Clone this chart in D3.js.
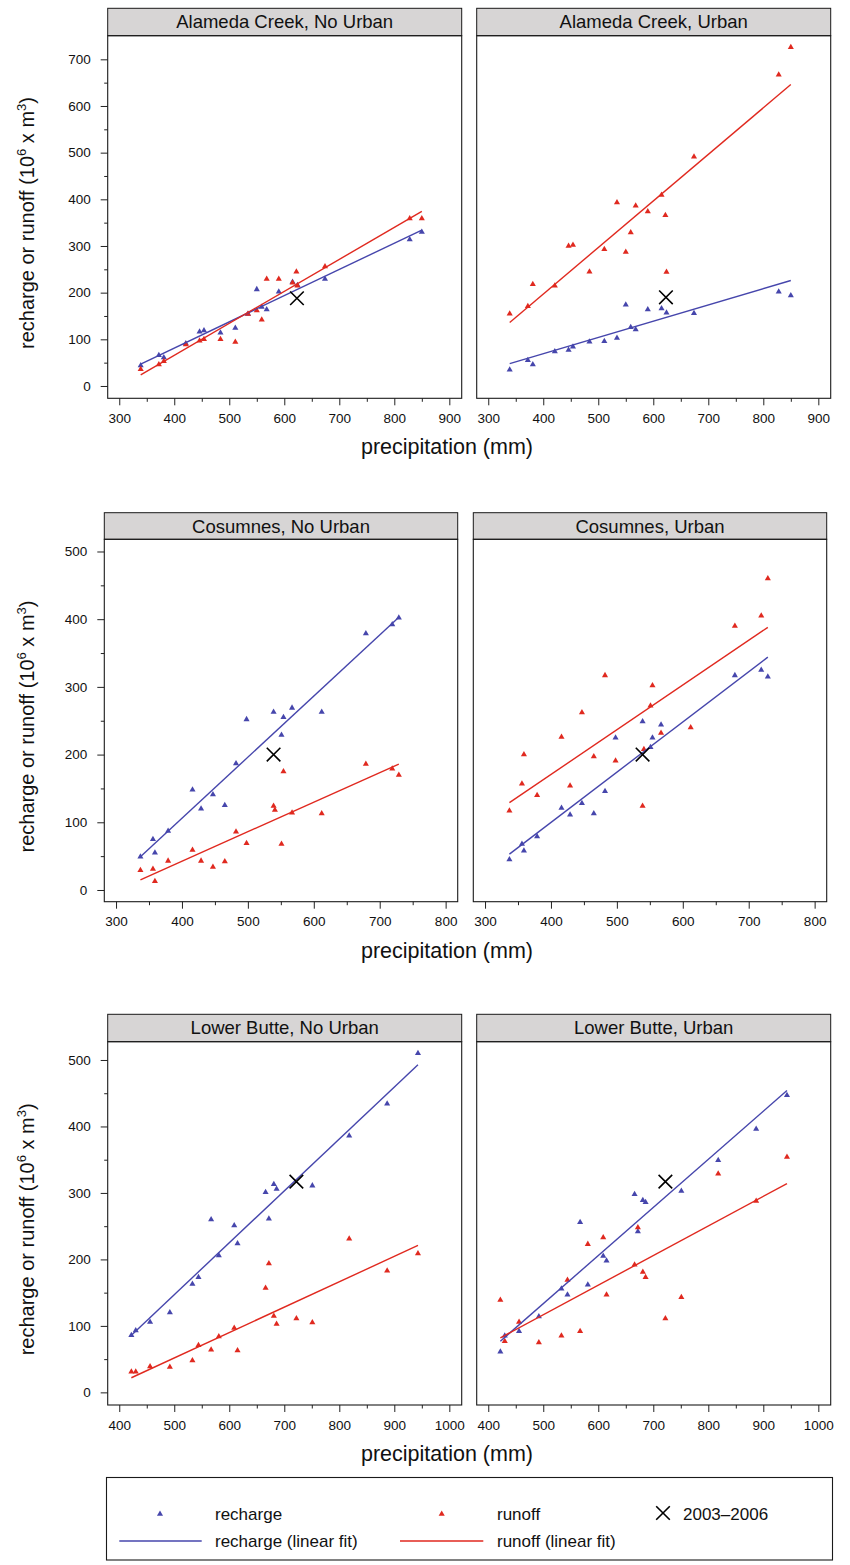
<!DOCTYPE html>
<html>
<head>
<meta charset="utf-8">
<script src="https://cdn.jsdelivr.net/npm/d3@7"></script>
<style>
  body { margin: 0; background: #fff; }
  svg { display: block; font-family: "Liberation Sans", Arial, Helvetica, sans-serif; }
</style>
</head>
<body>
<svg id="chart" width="850" height="1565"></svg>
<script>
// ---- data ----
// precipitation (mm), one value per year, sorted
var alamedaPrecip    = [339, 372, 381, 421, 446, 454, 484, 511, 534, 550, 559, 568, 590, 615, 622, 624, 674, 828, 850];
var cosumnesPrecip   = [337, 356, 359, 379, 416, 429, 447, 465, 482, 498, 539, 541, 551, 554, 567, 612, 679, 719, 729];
var lowerButtePrecip = [422, 430, 456, 492, 533, 544, 567, 581, 609, 615, 666, 672, 681, 686, 722, 751, 818, 887, 943];

// recharge / runoff (10^6 m3), null = not visible in the figure
var alamedaNoUrbanRecharge = [44, 66, 61, 91, 116, 119, 114, 124, 154, 207, 169, 164, 202, 223, null, 216, 229, 314, 330];
var alamedaNoUrbanRunoff   = [36, 46, 53, 89, 97, 100, 100, 94, 154, 162, 142, 229, 229, 221, 245, 215, 256, 359, 359];
var alamedaUrbanRecharge   = [35, 55, 46, 74, 77, 84, 95, 96, 103, 174, 126, 121, 164, 166, null, 157, 156, 202, 194];
var alamedaUrbanRunoff     = [155, 171, 218, 215, 300, 302, 245, 293, 393, 287, 329, 386, 374, 409, 366, 244, 491, 667, 726];

var cosumnesNoUrbanRecharge = [49, 75, 55, 87, 148, 120, 141, 125, 187, 252, 263, null, 229, 255, 269, 263, 379, 392, 402];
var cosumnesNoUrbanRunoff   = [29, 31, 13, 43, 59, 43, 34, 42, 86, 69, 124, 118, 68, 175, 114, 113, 186, 179, 170];
var cosumnesUrbanRecharge   = [45, 68, 58, 79, 121, 111, 128, 113, 146, 225, 249, null, 211, 225, 244, null, 317, 325, 315];
var cosumnesUrbanRunoff     = [117, 157, 200, 140, 226, 154, 262, 197, 317, 191, 124, 208, 272, 302, 232, 240, 390, 405, 460];

var lowerButteNoUrbanRecharge = [86, 93, 106, 120, 163, 173, 260, 206, 251, 224, 301, 261, 313, 306, null, 311, 386, 434, 510];
var lowerButteNoUrbanRunoff   = [31, 31, 39, 38, 48, 71, 64, 84, 97, 63, 157, 194, 115, 103, 111, 105, 231, 183, 209];
var lowerButteUrbanRecharge   = [61, 85, 92, 114, 156, 147, 256, 162, 205, 198, 298, 242, 289, 286, null, 303, 349, 396, 447];
var lowerButteUrbanRunoff     = [139, 77, 106, 75, 85, 169, 92, 223, 233, 147, 192, 248, 181, 173, 111, 143, 329, 288, 354];

// linear fits: value at the lowest and at the highest precipitation
var alamedaNoUrbanRechargeFit = [47, 334],  alamedaNoUrbanRunoffFit = [24, 374];
var alamedaUrbanRechargeFit   = [48, 226],  alamedaUrbanRunoffFit   = [136, 646];
var cosumnesNoUrbanRechargeFit = [49, 403], cosumnesNoUrbanRunoffFit = [15, 186];
var cosumnesUrbanRechargeFit   = [53, 344], cosumnesUrbanRunoffFit   = [129, 388];
var lowerButteNoUrbanRechargeFit = [86, 493], lowerButteNoUrbanRunoffFit = [22, 221];
var lowerButteUrbanRechargeFit   = [77, 454], lowerButteUrbanRunoffFit   = [82, 314];

// 2003-2006 marker [precipitation, value]
var alamedaNoUrbanMark = [623, 188],    alamedaUrbanMark = [623, 190];
var cosumnesNoUrbanMark = [539, 200],   cosumnesUrbanMark = [539, 200];
var lowerButteNoUrbanMark = [722, 317], lowerButteUrbanMark = [722, 317];

var panelTitles = ["Alameda Creek, No Urban", "Alameda Creek, Urban",
                   "Cosumnes, No Urban", "Cosumnes, Urban",
                   "Lower Butte, No Urban", "Lower Butte, Urban"];
var xTickRange = [[300, 900], [300, 800], [400, 1000]];
var yTickRange = [[0, 700], [0, 500], [0, 500]];
var legendLabels = ["recharge", "runoff", "2003\u20132006", "recharge (linear fit)", "runoff (linear fit)"];

// ---- layout ----
var colRecharge = "#4646ac", colRunoff = "#e0291f";
var rows = [
    {stripTop: 8.3,    top: 35.7,   bottom: 398.3, lefts: [107.7, 476.7], width: 354,   xDomain: [279, 922.5],   yDomain: [-26.4, 750.6]},
    {stripTop: 512.7,  top: 539.3,  bottom: 901.7, lefts: [104.3, 473.3], width: 353.4, xDomain: [282.2, 818.3], yDomain: [-17.3, 518]},
    {stripTop: 1014.3, top: 1041.7, bottom: 1405,  lefts: [107.7, 476.7], width: 354,   xDomain: [379, 1022.5],  yDomain: [-19, 527.5]}
];

var panels = [
    {precip: alamedaPrecip, recharge: alamedaNoUrbanRecharge, runoff: alamedaNoUrbanRunoff, rFit: alamedaNoUrbanRechargeFit, oFit: alamedaNoUrbanRunoffFit, mark: alamedaNoUrbanMark},
    {precip: alamedaPrecip, recharge: alamedaUrbanRecharge, runoff: alamedaUrbanRunoff, rFit: alamedaUrbanRechargeFit, oFit: alamedaUrbanRunoffFit, mark: alamedaUrbanMark},
    {precip: cosumnesPrecip, recharge: cosumnesNoUrbanRecharge, runoff: cosumnesNoUrbanRunoff, rFit: cosumnesNoUrbanRechargeFit, oFit: cosumnesNoUrbanRunoffFit, mark: cosumnesNoUrbanMark},
    {precip: cosumnesPrecip, recharge: cosumnesUrbanRecharge, runoff: cosumnesUrbanRunoff, rFit: cosumnesUrbanRechargeFit, oFit: cosumnesUrbanRunoffFit, mark: cosumnesUrbanMark},
    {precip: lowerButtePrecip, recharge: lowerButteNoUrbanRecharge, runoff: lowerButteNoUrbanRunoff, rFit: lowerButteNoUrbanRechargeFit, oFit: lowerButteNoUrbanRunoffFit, mark: lowerButteNoUrbanMark},
    {precip: lowerButtePrecip, recharge: lowerButteUrbanRecharge, runoff: lowerButteUrbanRunoff, rFit: lowerButteUrbanRechargeFit, oFit: lowerButteUrbanRunoffFit, mark: lowerButteUrbanMark}
];

var svg = d3.select("#chart");
var tri = d3.symbol().type(d3.symbolTriangle).size(16);

function crossPath(cx, cy, h) {
    return "M" + (cx - h) + "," + (cy - h) + "L" + (cx + h) + "," + (cy + h) +
           "M" + (cx - h) + "," + (cy + h) + "L" + (cx + h) + "," + (cy - h);
}

panels.forEach(function (p, i) {
    var rowIdx = Math.floor(i / 2), col = i % 2;
    var r = rows[rowIdx];
    var left = r.lefts[col];
    var x = d3.scaleLinear().domain(r.xDomain).range([left, left + r.width]);
    var y = d3.scaleLinear().domain(r.yDomain).range([r.bottom, r.top]);
    var g = svg.append("g");

    // strip
    g.append("rect")
        .attr("x", left).attr("y", r.stripTop)
        .attr("width", r.width).attr("height", r.top - r.stripTop)
        .attr("fill", "#d7d5d5").attr("stroke", "#1a1a1a").attr("stroke-width", 1);
    g.append("text")
        .attr("x", left + r.width / 2).attr("y", r.stripTop + 20)
        .attr("text-anchor", "middle").attr("font-size", 18.5).attr("fill", "#111")
        .text(panelTitles[i]);

    // ticks: labelled every 100, short ones every 50
    var xt = xTickRange[rowIdx], yt = yTickRange[rowIdx];
    var xMajor = d3.range(xt[0], xt[1] + 1, 100), xMinor = d3.range(xt[0] + 50, xt[1], 100);
    var yMajor = d3.range(yt[0], yt[1] + 1, 100), yMinor = d3.range(yt[0] + 50, yt[1], 100);

    g.append("g")
        .attr("transform", "translate(0," + r.bottom + ")")
        .call(d3.axisBottom(x).tickValues(xMajor).tickSize(7).tickPadding(8).tickFormat(d3.format("d")))
        .call(function (a) { a.select(".domain").remove(); })
        .attr("font-size", 13.5).attr("font-family", null);
    g.append("g")
        .attr("transform", "translate(0," + r.bottom + ")")
        .call(d3.axisBottom(x).tickValues(xMinor).tickSize(3.5).tickFormat(""))
        .call(function (a) { a.select(".domain").remove(); });

    if (col === 0) {
        g.append("g")
            .attr("transform", "translate(" + left + ",0)")
            .call(d3.axisLeft(y).tickValues(yMajor).tickSize(7).tickPadding(10).tickFormat(d3.format("d")))
            .call(function (a) { a.select(".domain").remove(); })
            .attr("font-size", 13.5).attr("font-family", null);
        g.append("g")
            .attr("transform", "translate(" + left + ",0)")
            .call(d3.axisLeft(y).tickValues(yMinor).tickSize(3.5).tickFormat(""))
            .call(function (a) { a.select(".domain").remove(); });
    }
    g.selectAll(".tick line").attr("stroke", "#222");
    g.selectAll(".tick text").attr("fill", "#111");

    // frame
    g.append("rect")
        .attr("x", left).attr("y", r.top)
        .attr("width", r.width).attr("height", r.bottom - r.top)
        .attr("fill", "none").attr("stroke", "#1a1a1a").attr("stroke-width", 1.1);

    // points
    var series = [
        {vals: p.recharge, fit: p.rFit, color: colRecharge},
        {vals: p.runoff, fit: p.oFit, color: colRunoff}
    ];
    series.forEach(function (s) {
        var pts = p.precip.map(function (v, k) { return {x: v, y: s.vals[k]}; })
            .filter(function (d) { return d.y !== null; });
        g.append("g").selectAll("path")
            .data(pts)
            .enter().append("path")
            .attr("d", tri)
            .attr("transform", function (d) { return "translate(" + x(d.x) + "," + y(d.y) + ")"; })
            .attr("fill", s.color);
    });
    // fitted lines
    series.forEach(function (s) {
        var ext = d3.extent(p.precip);
        g.append("line")
            .attr("x1", x(ext[0])).attr("y1", y(s.fit[0]))
            .attr("x2", x(ext[1])).attr("y2", y(s.fit[1]))
            .attr("stroke", s.color).attr("stroke-width", 1.4);
    });

    // 2003-2006 marker
    g.append("path")
        .attr("d", crossPath(x(p.mark[0]), y(p.mark[1]), 6.8))
        .attr("stroke", "#000").attr("stroke-width", 1.6).attr("fill", "none");
});

// axis titles
rows.forEach(function (r) {
    svg.append("text")
        .attr("x", 447).attr("y", r.bottom + 56)
        .attr("text-anchor", "middle").attr("font-size", 21.5).attr("fill", "#111")
        .text("precipitation (mm)");

    var yl = svg.append("text")
        .attr("transform", "translate(34," + ((r.top + r.bottom) / 2 + 6) + ") rotate(-90)")
        .attr("text-anchor", "middle").attr("font-size", 20).attr("fill", "#111");
    yl.append("tspan").text("recharge or runoff (10");
    yl.append("tspan").attr("font-size", 13).attr("dy", -8).text("6");
    yl.append("tspan").attr("dy", 8).text(" x m");
    yl.append("tspan").attr("font-size", 13).attr("dy", -8).text("3");
    yl.append("tspan").attr("dy", 8).text(")");
});

// legend
var legend = svg.append("g").attr("font-size", 17).attr("fill", "#111");
legend.append("rect")
    .attr("x", 106.5).attr("y", 1477.5).attr("width", 726).attr("height", 82.5)
    .attr("fill", "none").attr("stroke", "#1a1a1a").attr("stroke-width", 1.1);

legend.append("path").attr("d", tri).attr("transform", "translate(160,1514)").attr("fill", colRecharge);
legend.append("path").attr("d", tri).attr("transform", "translate(441.7,1514)").attr("fill", colRunoff);
legend.append("path").attr("d", crossPath(663, 1513, 6.8))
    .attr("stroke", "#000").attr("stroke-width", 1.6).attr("fill", "none");
legend.append("line").attr("x1", 119.3).attr("x2", 201.7).attr("y1", 1541).attr("y2", 1541)
    .attr("stroke", colRecharge).attr("stroke-width", 1.4);
legend.append("line").attr("x1", 400).attr("x2", 483.3).attr("y1", 1541).attr("y2", 1541)
    .attr("stroke", colRunoff).attr("stroke-width", 1.4);

var legendTextPos = [[215, 1519.5], [497, 1519.5], [683, 1519.5], [215, 1547], [497, 1547]];
legend.selectAll("text.lab")
    .data(legendLabels)
    .enter().append("text")
    .attr("class", "lab")
    .attr("x", function (d, k) { return legendTextPos[k][0]; })
    .attr("y", function (d, k) { return legendTextPos[k][1]; })
    .text(function (d) { return d; });
</script>
</body>
</html>
